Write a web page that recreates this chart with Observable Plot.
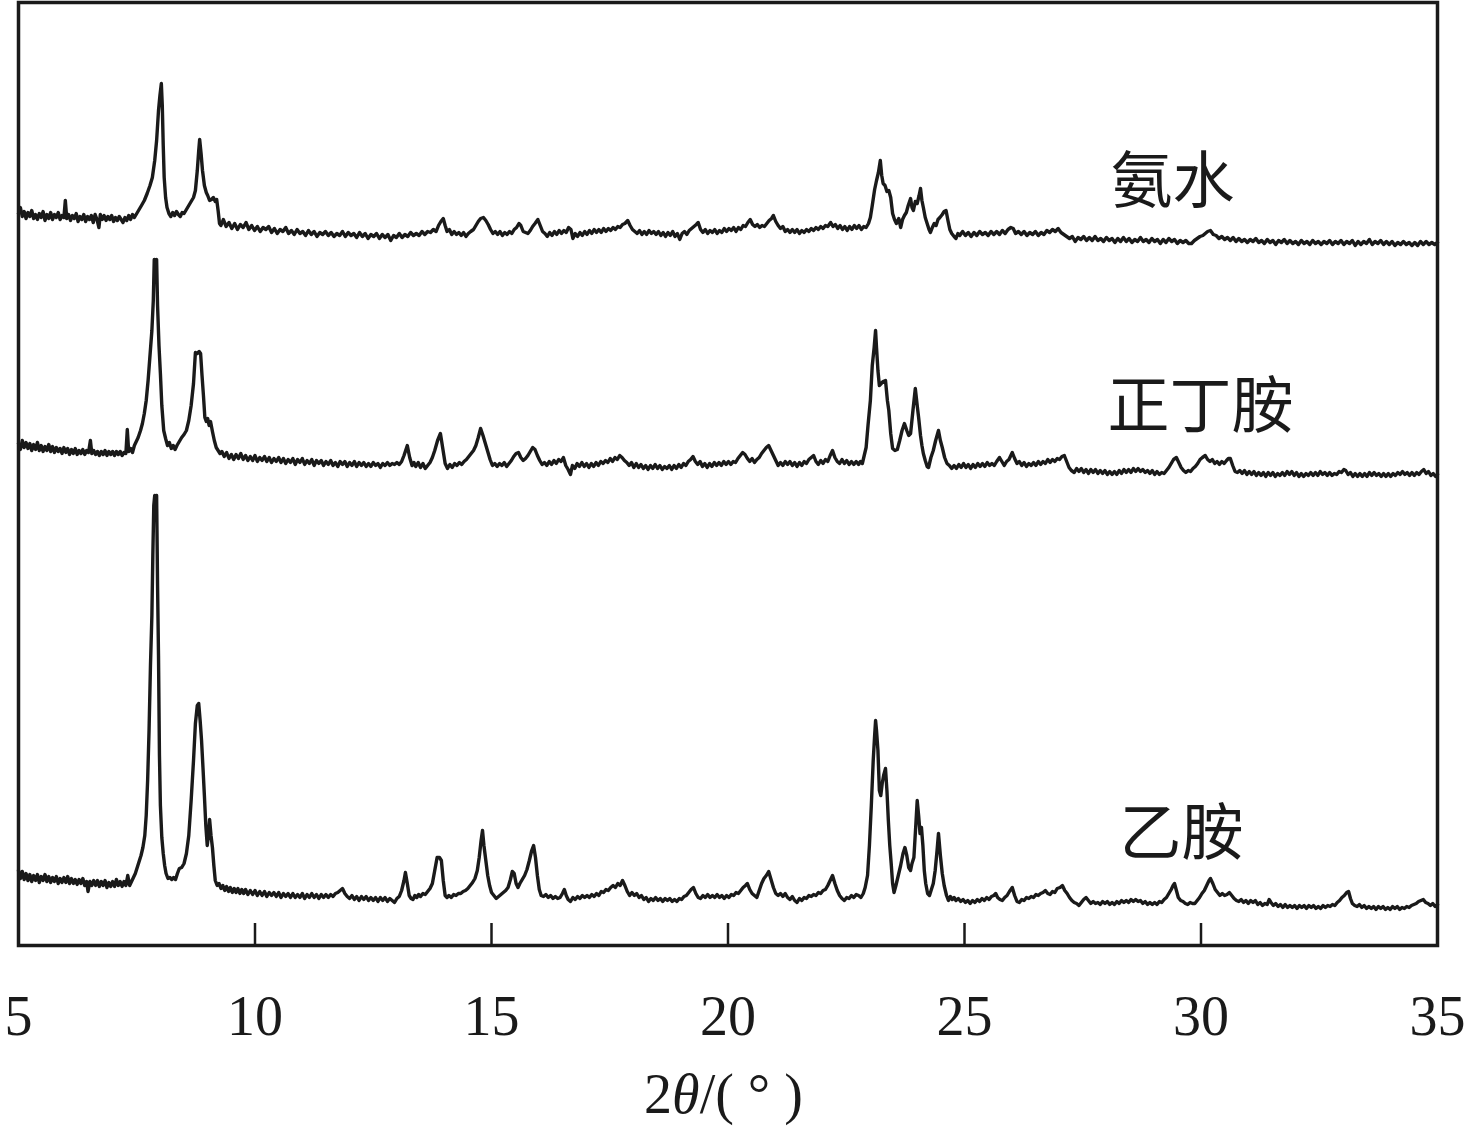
<!DOCTYPE html>
<html><head><meta charset="utf-8">
<script src="https://cdn.jsdelivr.net/npm/d3@7"></script>
<script src="https://cdn.jsdelivr.net/npm/@observablehq/plot@0.6"></script>
<style>body{margin:0;background:#fff}</style>
</head><body><div id="chart"></div>
<script>
// 2θ (deg), intensity (a.u., curves stacked with offset)
const ammonia = [
[5.00,732],[5.04,738],[5.08,729],[5.12,734],[5.16,727],[5.20,733],[5.24,729],[5.28,735],[5.32,727],[5.36,731],[5.40,726],[5.44,732],[5.48,728],[5.52,734],[5.56,725],[5.60,731],[5.64,727],[5.68,733],[5.72,726],[5.76,731],[5.80,728],[5.84,733],[5.88,726],[5.92,730],[5.96,728],[5.99,745],[6.02,727],[6.06,731],[6.10,725],[6.14,730],[6.18,727],[6.22,732],[6.26,724],[6.30,729],[6.34,726],[6.38,731],[6.42,724],[6.46,729],[6.50,726],[6.54,730],[6.58,723],[6.62,731],[6.66,726],[6.70,718],[6.73,731],[6.77,726],[6.81,730],[6.85,725],[6.89,729],[6.93,726],[6.97,730],[7.01,724],[7.05,728],[7.09,725],[7.13,729],[7.17,726],[7.21,723],[7.25,728],[7.29,725],[7.33,730],[7.37,726],[7.41,731],[7.45,728],[7.50,732],[7.55,736],[7.60,740],[7.66,745],[7.72,752],[7.78,760],[7.83,768],[7.88,785],[7.92,805],[7.96,835],[7.99,850],[8.02,862],[8.04,840],[8.06,800],[8.08,768],[8.11,748],[8.14,738],[8.18,732],[8.22,729],[8.26,733],[8.30,730],[8.34,734],[8.38,731],[8.42,729],[8.46,733],[8.50,732],[8.55,736],[8.60,740],[8.65,744],[8.70,748],[8.74,755],[8.78,775],[8.81,795],[8.83,806],[8.86,792],[8.89,775],[8.93,760],[8.97,753],[9.00,750],[9.04,745],[9.08,746],[9.12,748],[9.16,744],[9.19,746],[9.22,735],[9.25,722],[9.28,720],
[9.33,726],[9.39,719],[9.45,723],[9.51,717],[9.57,722],[9.63,716],[9.69,721],[9.75,718],[9.81,723],[9.87,716],[9.93,720],[9.99,715],[10.05,719],[10.11,714],[10.17,718],[10.23,716],[10.29,719],[10.35,713],[10.41,717],[10.47,712],[10.53,716],[10.59,714],[10.65,718],[10.71,712],[10.77,715],[10.83,711],[10.89,716],[10.95,712],[11.01,714],[11.07,710],[11.13,715],[11.19,711],[11.25,714],[11.31,709],[11.37,713],[11.43,711],[11.49,714],[11.55,710],[11.61,713],[11.67,709],[11.73,712],[11.79,710],[11.85,714],[11.91,709],[11.97,713],[12.03,710],[12.09,712],[12.15,708],[12.21,713],[12.27,709],[12.33,712],[12.39,707],[12.45,711],[12.51,709],[12.57,712],[12.63,707],[12.69,711],[12.75,708],[12.81,711],[12.87,705],[12.93,710],[12.99,708],[13.05,712],[13.11,708],[13.17,711],[13.23,709],[13.29,713],[13.35,710],[13.41,712],[13.47,710],[13.53,714],[13.59,711],[13.65,714],[13.71,713],[13.77,716],
[13.83,714],[13.88,720],[13.93,724],[13.98,727],[14.02,720],[14.06,714],[14.11,716],[14.16,711],[14.21,714],[14.26,711],[14.31,713],[14.36,710],[14.41,713],[14.46,709],[14.51,712],[14.56,714],[14.62,716],[14.67,720],[14.72,724],[14.77,727],[14.83,728],[14.88,725],[14.93,721],[14.98,716],[15.03,712],[15.08,714],[15.13,711],[15.18,714],[15.23,710],[15.28,713],[15.33,711],[15.38,714],[15.43,712],[15.48,716],[15.53,718],[15.58,722],[15.62,720],[15.67,714],[15.72,713],[15.77,712],[15.82,715],[15.87,719],[15.92,722],[15.98,726],[16.03,720],[16.08,714],[16.13,712],[16.18,709],[16.23,713],[16.28,710],[16.33,714],[16.38,711],[16.43,715],[16.48,712],[16.53,715],[16.58,713],[16.63,718],[16.68,716],[16.72,707],[16.77,712],[16.82,709],[16.87,713],[16.92,710],[16.97,714],[17.02,711],[17.07,715],[17.12,712],[17.17,716],[17.22,713],[17.27,716],[17.32,713],[17.37,717],[17.42,714],[17.47,717],[17.52,715],[17.57,718],[17.62,716],[17.67,719],[17.72,718],[17.77,721],[17.82,722],[17.88,725],[17.93,720],[17.98,716],[18.03,714],[18.08,712],[18.13,715],[18.18,711],[18.23,714],[18.28,711],[18.33,715],[18.38,712],[18.43,714],[18.48,711],[18.53,714],[18.58,710],[18.63,713],[18.68,709],[18.73,713],[18.78,710],[18.83,714],[18.88,709],[18.93,712],[18.98,706],[19.03,712],[19.08,714],[19.13,711],[19.18,715],[19.23,717],[19.28,719],[19.33,721],[19.37,723],[19.42,716],[19.47,713],[19.52,716],[19.57,712],[19.62,715],[19.67,713],[19.72,716],[19.77,712],[19.82,715],[19.87,713],[19.92,717],[19.97,714],[20.02,717],[20.07,715],[20.12,718],[20.17,714],[20.22,718],[20.27,716],[20.32,720],[20.37,719],[20.42,723],[20.47,726],[20.52,721],[20.57,719],[20.62,721],[20.67,718],[20.72,720],[20.77,719],[20.82,722],[20.87,725],[20.92,727],[20.96,730],[21.01,724],[21.06,720],[21.11,717],[21.16,719],[21.21,714],[21.26,716],[21.31,713],[21.36,716],[21.41,713],[21.46,716],[21.51,712],[21.56,715],[21.61,713],[21.66,716],[21.71,714],[21.76,717],[21.81,715],[21.86,718],[21.91,716],[21.96,719],[22.01,717],[22.06,720],[22.11,719],[22.17,723],[22.22,719],[22.27,721],[22.32,717],[22.37,720],[22.42,716],[22.47,719],[22.52,715],[22.57,719],[22.62,716],[22.67,720],[22.72,717],[22.77,720],[22.82,716],[22.87,719],[22.92,718],[22.97,722],
[23.01,728],[23.05,740],[23.10,756],[23.14,765],[23.18,773],[23.22,785],[23.25,770],[23.28,762],[23.32,760],[23.36,754],[23.40,755],[23.44,748],[23.48,732],[23.52,726],[23.56,722],[23.61,727],[23.65,718],[23.69,726],[23.73,730],[23.77,733],[23.81,740],[23.86,747],[23.89,738],[23.92,735],[23.96,744],[24.00,742],[24.04,750],[24.07,757],[24.10,745],[24.13,738],[24.17,728],[24.21,722],[24.25,716],[24.28,713],[24.32,718],[24.36,722],[24.40,720],[24.44,726],[24.48,728],[24.53,731],[24.57,734],[24.61,735],[24.65,725],[24.69,716],[24.73,712],[24.78,709],[24.82,707],[24.86,712],
[24.90,710],[24.96,714],[25.02,710],[25.08,713],[25.14,709],[25.20,713],[25.26,710],[25.32,714],[25.38,711],[25.44,713],[25.50,710],[25.56,714],[25.62,711],[25.68,714],[25.74,711],[25.80,715],[25.86,712],[25.92,716],[25.98,718],[26.03,717],[26.08,712],[26.14,714],[26.20,711],[26.26,714],[26.32,710],[26.38,713],[26.44,711],[26.50,714],[26.56,710],[26.62,713],[26.68,711],[26.74,715],[26.80,713],[26.86,716],[26.92,714],[26.98,717],[27.04,713],[27.10,711],[27.16,709],[27.22,707],[27.28,709],[27.34,704],[27.40,708],[27.46,706],[27.52,709],[27.58,705],[27.64,708],[27.70,705],[27.76,709],[27.82,705],[27.88,707],[27.94,704],[28.00,708],[28.06,705],[28.12,707],[28.18,703],[28.24,707],[28.30,704],[28.36,708],[28.42,704],[28.48,707],[28.54,703],[28.60,706],[28.66,704],[28.72,708],[28.78,704],[28.84,706],[28.90,703],[28.96,707],[29.02,704],[29.08,706],[29.14,702],[29.20,706],[29.26,703],[29.32,707],[29.38,704],[29.44,706],[29.50,702],[29.56,705],[29.62,703],[29.68,705],[29.74,702],[29.80,702],[29.86,705],[29.92,707],[29.98,709],[30.04,710],[30.09,712],[30.14,714],[30.20,715],[30.26,711],[30.32,710],[30.38,707],[30.44,709],[30.50,706],[30.56,708],[30.62,705],[30.68,708],[30.74,704],[30.80,707],[30.86,704],[30.92,706],[30.98,703],[31.04,706],[31.10,704],[31.16,707],[31.22,703],[31.28,705],[31.34,702],[31.40,706],[31.46,703],[31.52,705],[31.58,701],[31.64,705],[31.70,703],[31.76,706],[31.82,702],[31.88,705],[31.94,702],[32.00,704],[32.06,701],[32.12,705],[32.18,702],[32.24,704],[32.30,701],[32.36,705],[32.42,702],[32.48,704],[32.54,701],[32.60,704],[32.66,702],[32.72,705],[32.78,701],[32.84,704],[32.90,702],[32.96,705],[33.02,701],[33.08,704],[33.14,702],[33.20,705],[33.26,700],[33.32,704],[33.38,701],[33.44,704],[33.50,702],[33.56,706],[33.62,701],[33.68,704],[33.74,702],[33.80,705],[33.86,701],[33.92,704],[33.98,701],[34.04,704],[34.10,700],[34.16,703],[34.22,701],[34.28,704],[34.34,701],[34.40,703],[34.46,700],[34.52,703],[34.58,700],[34.64,704],[34.70,701],[34.76,704],[34.82,701],[34.88,703],[34.94,701],[35.00,703]
];
const butylamine = [
[5.00,502],[5.04,496],[5.08,505],[5.12,498],[5.16,503],[5.20,497],[5.24,502],[5.28,495],[5.32,501],[5.36,496],[5.40,503],[5.44,495],[5.48,500],[5.52,494],[5.56,499],[5.60,495],[5.64,501],[5.68,494],[5.72,499],[5.76,493],[5.80,498],[5.84,494],[5.88,497],[5.92,492],[5.96,498],[6.00,493],[6.04,497],[6.08,491],[6.12,496],[6.16,492],[6.20,497],[6.24,491],[6.28,495],[6.32,492],[6.36,496],[6.40,491],[6.44,495],[6.48,493],[6.52,505],[6.55,492],[6.59,495],[6.63,491],[6.67,494],[6.71,490],[6.75,494],[6.79,491],[6.83,495],[6.87,490],[6.91,494],[6.95,491],[6.99,494],[7.03,490],[7.07,494],[7.11,491],[7.15,494],[7.19,490],[7.23,493],[7.27,492],[7.30,516],[7.33,494],[7.37,497],[7.41,493],[7.45,500],[7.49,504],[7.53,508],[7.58,515],[7.62,522],[7.66,532],[7.70,545],[7.74,565],[7.78,590],[7.82,615],[7.85,645],[7.87,686],[7.90,683],[7.92,686],[7.94,640],[7.97,600],[8.00,572],[8.03,540],[8.07,515],[8.11,507],[8.15,500],[8.19,503],[8.23,497],[8.27,500],[8.31,496],[8.35,500],[8.40,504],[8.45,508],[8.50,511],[8.55,515],[8.60,525],[8.65,540],[8.70,562],[8.74,593],[8.78,592],[8.82,594],[8.85,592],[8.88,570],[8.91,550],[8.94,528],[8.97,524],[9.00,527],[9.03,520],[9.06,524],[9.10,514],[9.14,505],[9.18,498],[9.22,495],[9.26,492],[9.30,494],
[9.35,489],[9.40,493],[9.45,487],[9.50,491],[9.55,486],[9.60,491],[9.65,487],[9.70,492],[9.75,486],[9.80,490],[9.85,485],[9.90,489],[9.95,485],[10.00,490],[10.05,484],[10.10,488],[10.15,485],[10.20,489],[10.25,484],[10.30,488],[10.35,483],[10.40,487],[10.45,484],[10.50,488],[10.55,483],[10.60,487],[10.65,482],[10.70,486],[10.75,483],[10.80,487],[10.85,481],[10.90,486],[10.95,483],[11.00,487],[11.05,481],[11.10,485],[11.15,482],[11.20,486],[11.25,480],[11.30,485],[11.35,482],[11.40,485],[11.45,480],[11.50,484],[11.55,481],[11.60,485],[11.65,480],[11.70,483],[11.75,479],[11.80,484],[11.85,481],[11.90,484],[11.95,479],[12.00,483],[12.05,480],[12.10,484],[12.15,479],[12.20,483],[12.25,480],[12.30,483],[12.35,479],[12.40,482],[12.45,479],[12.50,483],[12.55,480],[12.60,482],[12.65,478],[12.70,482],[12.75,480],[12.80,483],[12.85,480],[12.90,482],[12.95,481],[13.00,483],[13.05,481],[13.10,484],[13.15,490],[13.22,500],[13.27,488],[13.32,480],[13.36,483],[13.40,479],[13.45,483],[13.50,478],[13.55,482],[13.60,477],[13.65,480],[13.70,483],[13.75,488],[13.80,495],[13.86,505],[13.92,512],[13.97,497],[14.02,482],[14.07,477],[14.12,481],[14.17,478],[14.22,482],[14.27,480],[14.32,483],[14.37,481],[14.42,484],[14.47,486],[14.52,489],[14.57,492],[14.62,495],[14.67,500],[14.72,508],[14.77,517],[14.82,510],[14.87,502],[14.92,494],[14.97,486],[15.02,480],[15.07,482],[15.12,479],[15.17,482],[15.22,480],[15.27,483],[15.32,479],[15.37,482],[15.42,485],[15.47,489],[15.52,492],[15.57,493],[15.62,488],[15.67,485],[15.72,487],[15.77,490],[15.82,494],[15.87,498],[15.92,496],[15.97,490],[16.02,485],[16.07,481],[16.12,483],[16.17,480],[16.22,484],[16.27,481],[16.32,485],[16.37,482],[16.42,486],[16.47,484],[16.52,488],[16.57,480],[16.62,476],[16.67,471],[16.71,480],[16.76,477],[16.81,482],[16.86,479],[16.91,483],[16.96,479],[17.01,482],[17.06,478],[17.11,482],[17.16,479],[17.21,483],[17.26,480],[17.31,484],[17.36,482],[17.41,485],[17.46,483],[17.51,487],[17.56,484],[17.61,488],[17.66,486],[17.71,490],[17.76,488],[17.81,485],[17.86,483],[17.91,480],[17.96,483],[18.01,478],[18.06,482],[18.11,478],[18.16,481],[18.21,477],[18.26,480],[18.31,476],[18.36,480],[18.41,477],[18.46,481],[18.51,477],[18.56,480],[18.61,476],[18.66,479],[18.71,477],[18.76,480],[18.81,476],[18.86,480],[18.91,477],[18.96,481],[19.01,478],[19.06,482],[19.11,480],[19.16,484],[19.21,486],[19.26,489],[19.31,484],[19.36,481],[19.41,484],[19.46,479],[19.51,482],[19.56,478],[19.61,482],[19.66,479],[19.71,483],[19.76,480],[19.81,483],[19.86,480],[19.91,484],[19.96,481],[20.01,484],[20.06,481],[20.11,484],[20.16,483],[20.21,487],[20.26,490],[20.31,493],[20.36,491],[20.41,487],[20.46,484],[20.51,487],[20.56,483],[20.61,486],[20.66,488],[20.71,492],[20.76,495],[20.81,498],[20.86,500],[20.91,495],[20.96,490],[21.01,485],[21.06,480],[21.11,483],[21.16,480],[21.21,484],[21.26,481],[21.31,484],[21.36,480],[21.41,483],[21.46,479],[21.51,483],[21.56,480],[21.61,484],[21.66,482],[21.71,486],[21.76,488],[21.81,490],[21.86,484],[21.91,481],[21.96,485],[22.01,482],[22.06,486],[22.11,484],[22.16,490],[22.21,495],[22.26,488],[22.31,484],[22.36,482],[22.41,486],[22.46,482],[22.51,485],[22.56,481],[22.61,484],[22.66,481],[22.71,484],[22.76,481],[22.80,484],[22.84,482],[22.88,490],[22.92,498],[22.96,520],[23.01,545],[23.05,580],[23.09,598],[23.12,615],[23.14,598],[23.17,575],[23.20,560],[23.24,562],[23.28,564],[23.33,565],[23.37,545],[23.40,535],[23.44,512],[23.48,497],[23.53,495],[23.58,496],[23.63,505],[23.68,515],[23.73,522],[23.78,515],[23.82,510],[23.86,512],[23.91,535],[23.96,557],[24.00,540],[24.03,528],[24.07,510],[24.10,500],[24.13,492],[24.17,485],[24.21,479],[24.24,478],[24.29,488],[24.34,495],[24.39,505],[24.45,515],[24.49,505],[24.53,498],[24.58,488],[24.63,482],[24.68,480],[24.73,477],[24.78,480],[24.83,477],[24.88,481],[24.93,478],[24.98,482],[25.03,478],[25.08,481],[25.13,477],[25.18,481],[25.23,478],[25.28,482],[25.33,479],[25.38,482],[25.43,479],[25.48,483],[25.53,480],[25.58,482],[25.63,480],[25.68,484],[25.74,488],[25.79,484],[25.84,480],[25.89,484],[25.94,486],[26.01,493],[26.06,487],[26.11,482],[26.16,484],[26.21,480],[26.26,483],[26.31,479],[26.36,482],[26.41,480],[26.46,483],[26.51,480],[26.56,484],[26.61,481],[26.66,484],[26.71,482],[26.76,486],[26.81,483],[26.86,486],[26.91,484],[26.96,487],[27.01,486],[27.06,489],[27.11,490],[27.16,484],[27.21,478],[27.26,475],[27.32,473],[27.37,477],[27.42,474],[27.47,477],[27.52,473],[27.57,476],[27.62,472],[27.67,476],[27.72,473],[27.77,476],[27.82,472],[27.87,475],[27.92,472],[27.97,475],[28.02,471],[28.07,474],[28.12,471],[28.17,474],[28.22,471],[28.27,475],[28.32,472],[28.37,476],[28.42,473],[28.47,476],[28.52,473],[28.57,477],[28.62,474],[28.67,477],[28.72,474],[28.77,476],[28.82,473],[28.87,475],[28.92,472],[28.97,475],[29.02,471],[29.07,474],[29.12,471],[29.17,473],[29.22,472],[29.27,475],[29.32,478],[29.37,482],[29.42,486],[29.48,488],[29.53,483],[29.58,478],[29.63,475],[29.68,473],[29.73,475],[29.78,474],[29.83,477],[29.88,479],[29.93,482],[29.98,486],[30.03,488],[30.09,490],[30.14,486],[30.19,484],[30.24,486],[30.29,482],[30.34,484],[30.39,481],[30.44,484],[30.49,482],[30.54,485],[30.58,487],[30.62,487],[30.67,480],[30.72,474],[30.77,473],[30.82,475],[30.87,472],[30.92,475],[30.97,471],[31.02,474],[31.07,471],[31.12,474],[31.17,470],[31.22,473],[31.27,470],[31.32,473],[31.37,469],[31.42,473],[31.47,470],[31.52,473],[31.57,469],[31.62,472],[31.67,470],[31.72,473],[31.77,470],[31.82,474],[31.87,471],[31.92,474],[31.97,470],[32.02,473],[32.07,469],[32.12,472],[32.17,469],[32.22,472],[32.27,470],[32.32,473],[32.37,470],[32.42,473],[32.47,470],[32.52,474],[32.57,471],[32.62,473],[32.67,470],[32.72,473],[32.77,470],[32.82,472],[32.87,471],[32.92,474],[32.97,473],[33.02,476],[33.06,475],[33.11,471],[33.16,473],[33.21,469],[33.26,472],[33.31,469],[33.36,472],[33.41,469],[33.46,472],[33.51,469],[33.56,473],[33.61,470],[33.66,473],[33.71,470],[33.76,472],[33.81,469],[33.86,472],[33.91,469],[33.96,472],[34.01,469],[34.06,472],[34.11,470],[34.16,473],[34.21,471],[34.26,474],[34.31,471],[34.36,473],[34.41,470],[34.46,473],[34.51,470],[34.56,473],[34.61,471],[34.66,474],[34.71,476],[34.76,472],[34.81,474],[34.86,470],[34.91,472],[34.96,469],[35.00,471]
];
const ethylamine = [
[5.00,75],[5.04,67],[5.08,74],[5.12,66],[5.16,72],[5.20,65],[5.24,71],[5.28,64],[5.32,70],[5.36,65],[5.40,71],[5.44,63],[5.48,69],[5.52,65],[5.56,71],[5.60,64],[5.64,69],[5.68,63],[5.72,68],[5.76,64],[5.80,69],[5.84,62],[5.88,67],[5.92,63],[5.96,68],[6.00,63],[6.04,69],[6.08,62],[6.12,67],[6.16,62],[6.20,66],[6.24,61],[6.28,66],[6.32,62],[6.36,67],[6.40,60],[6.44,64],[6.47,54],[6.51,64],[6.55,60],[6.59,65],[6.63,60],[6.67,65],[6.71,59],[6.75,64],[6.79,60],[6.83,65],[6.87,58],[6.91,63],[6.95,59],[6.99,64],[7.03,59],[7.07,66],[7.11,60],[7.15,64],[7.19,59],[7.23,64],[7.27,60],[7.31,70],[7.35,60],[7.39,64],[7.43,68],[7.47,72],[7.51,78],[7.55,84],[7.59,90],[7.63,98],[7.67,110],[7.70,130],[7.73,165],[7.76,215],[7.79,280],[7.82,330],[7.84,390],[7.86,440],[7.88,450],[7.90,445],[7.92,450],[7.94,360],[7.96,290],[7.98,190],[8.00,140],[8.03,108],[8.06,92],[8.09,80],[8.12,72],[8.16,67],[8.20,68],[8.24,66],[8.28,68],[8.32,66],[8.36,72],[8.40,77],[8.45,78],[8.50,82],[8.55,92],[8.60,110],[8.65,145],[8.70,185],[8.74,222],[8.78,240],[8.81,242],[8.84,225],[8.87,205],[8.90,178],[8.93,150],[8.96,120],[8.99,100],[9.02,112],[9.04,126],[9.07,110],[9.10,98],[9.13,80],[9.16,65],[9.20,60],[9.24,62],[9.28,57],[9.32,60],[9.36,55],[9.40,59],[9.44,54],[9.48,58],[9.52,53],[9.56,57],[9.60,53],[9.64,57],[9.68,52],[9.72,56],[9.76,52],[9.80,56],[9.85,51],[9.90,55],[9.95,51],[10.00,55],[10.05,50],[10.10,54],[10.15,50],[10.20,54],[10.25,49],[10.30,53],[10.35,50],[10.40,53],[10.45,49],[10.50,53],[10.55,48],[10.60,52],[10.65,49],[10.70,52],[10.75,48],[10.80,52],[10.85,48],[10.90,51],[10.95,48],[11.00,52],[11.05,47],[11.10,51],[11.15,48],[11.20,52],[11.25,48],[11.30,51],[11.35,47],[11.40,51],[11.45,48],[11.50,51],[11.55,48],[11.60,51],[11.65,49],[11.70,52],[11.75,53],[11.80,55],[11.85,57],[11.90,52],[11.95,49],[12.00,47],[12.05,50],[12.10,46],[12.15,49],[12.20,45],[12.25,49],[12.30,46],[12.35,49],[12.40,45],[12.45,48],[12.50,45],[12.55,48],[12.60,44],[12.65,48],[12.70,45],[12.75,48],[12.80,44],[12.85,47],[12.90,45],[12.95,43],[13.00,47],[13.05,49],[13.10,55],[13.15,65],[13.18,73],[13.22,62],[13.26,50],[13.30,47],[13.34,46],[13.38,50],[13.42,48],[13.46,51],[13.50,49],[13.55,52],[13.60,51],[13.65,54],[13.70,57],[13.75,62],[13.80,75],[13.85,88],[13.90,88],[13.94,85],[13.98,65],[14.02,50],[14.06,48],[14.10,50],[14.15,48],[14.20,51],[14.25,50],[14.30,52],[14.35,52],[14.40,54],[14.45,55],[14.50,57],[14.55,60],[14.60,63],[14.65,67],[14.70,75],[14.74,88],[14.78,105],[14.81,115],[14.84,100],[14.88,85],[14.92,70],[14.96,60],[15.00,53],[15.05,50],[15.10,47],[15.15,49],[15.20,51],[15.25,53],[15.30,55],[15.35,58],[15.40,66],[15.44,74],[15.48,72],[15.52,62],[15.56,58],[15.60,62],[15.65,66],[15.70,70],[15.75,76],[15.80,85],[15.85,95],[15.89,100],[15.93,88],[15.97,70],[16.01,56],[16.05,50],[16.10,49],[16.15,51],[16.20,48],[16.25,50],[16.30,47],[16.35,49],[16.40,47],[16.45,48],[16.50,52],[16.54,56],[16.58,50],[16.62,46],[16.67,44],[16.72,48],[16.77,46],[16.82,49],[16.87,47],[16.92,50],[16.97,48],[17.02,50],[17.07,48],[17.12,51],[17.17,49],[17.22,52],[17.27,50],[17.32,54],[17.37,53],[17.42,56],[17.47,55],[17.52,58],[17.57,60],[17.62,58],[17.67,62],[17.72,60],[17.77,65],[17.82,60],[17.87,54],[17.92,50],[17.97,53],[18.02,50],[18.07,52],[18.12,48],[18.17,50],[18.22,46],[18.27,48],[18.32,44],[18.37,47],[18.42,45],[18.47,48],[18.52,45],[18.57,47],[18.62,44],[18.67,47],[18.72,45],[18.77,47],[18.82,44],[18.87,46],[18.92,44],[18.97,47],[19.02,46],[19.07,49],[19.12,50],[19.17,53],[19.22,56],[19.27,58],[19.32,52],[19.37,48],[19.42,47],[19.47,50],[19.52,48],[19.57,51],[19.62,48],[19.67,50],[19.72,48],[19.77,51],[19.82,48],[19.87,50],[19.92,47],[19.97,50],[20.02,48],[20.07,51],[20.12,50],[20.17,53],[20.22,52],[20.27,55],[20.32,58],[20.37,60],[20.41,62],[20.46,56],[20.51,52],[20.56,50],[20.61,48],[20.66,55],[20.71,62],[20.76,67],[20.81,70],[20.86,74],[20.91,66],[20.96,58],[21.01,52],[21.06,50],[21.11,52],[21.16,49],[21.21,52],[21.26,48],[21.31,46],[21.36,49],[21.41,45],[21.46,43],[21.51,47],[21.56,45],[21.61,48],[21.66,47],[21.71,50],[21.76,49],[21.81,51],[21.86,50],[21.91,53],[21.96,52],[22.01,55],[22.06,56],[22.11,60],[22.16,65],[22.21,70],[22.26,62],[22.31,55],[22.36,50],[22.41,47],[22.46,45],[22.51,48],[22.56,47],[22.61,50],[22.66,48],[22.71,51],[22.76,50],[22.81,48],[22.86,52],[22.90,58],[22.95,70],[22.99,100],[23.03,140],[23.07,185],[23.10,210],[23.12,225],[23.14,215],[23.17,195],[23.20,155],[23.23,150],[23.26,162],[23.29,170],[23.33,177],[23.36,155],[23.39,125],[23.42,100],[23.45,82],[23.48,62],[23.51,53],[23.55,60],[23.60,70],[23.65,80],[23.70,92],[23.74,98],[23.78,90],[23.82,78],[23.86,75],[23.89,82],[23.93,88],[23.97,120],[24.00,145],[24.03,130],[24.06,112],[24.09,118],[24.12,100],[24.15,75],[24.18,62],[24.22,52],[24.26,50],[24.30,56],[24.34,62],[24.38,75],[24.42,95],[24.45,112],[24.49,90],[24.53,72],[24.57,60],[24.62,50],[24.66,45],[24.70,49],[24.74,46],[24.78,48],[24.82,45],[24.87,47],[24.92,44],[24.97,46],[25.02,43],[25.07,45],[25.12,42],[25.17,45],[25.22,43],[25.27,46],[25.32,44],[25.37,47],[25.42,45],[25.47,48],[25.52,46],[25.57,49],[25.62,50],[25.66,52],[25.70,48],[25.75,46],[25.80,45],[25.85,48],[25.90,50],[25.95,54],[26.01,58],[26.06,50],[26.11,44],[26.16,43],[26.21,46],[26.26,45],[26.31,48],[26.36,47],[26.41,49],[26.46,48],[26.51,51],[26.56,50],[26.61,52],[26.66,53],[26.71,55],[26.76,52],[26.81,51],[26.86,54],[26.91,53],[26.96,57],[27.02,58],[27.07,60],[27.12,55],[27.17,52],[27.22,48],[27.27,45],[27.32,43],[27.37,42],[27.42,40],[27.47,43],[27.52,46],[27.57,48],[27.62,45],[27.67,42],[27.72,44],[27.77,42],[27.82,43],[27.87,41],[27.92,44],[27.97,42],[28.02,44],[28.07,41],[28.12,43],[28.17,41],[28.22,44],[28.27,42],[28.32,45],[28.37,43],[28.42,45],[28.47,43],[28.52,46],[28.57,44],[28.62,46],[28.67,44],[28.72,45],[28.77,42],[28.82,44],[28.87,41],[28.92,43],[28.97,41],[29.02,43],[29.07,41],[29.12,44],[29.17,43],[29.22,46],[29.27,48],[29.32,52],[29.37,56],[29.41,60],[29.44,62],[29.48,55],[29.52,48],[29.57,45],[29.62,44],[29.67,42],[29.72,41],[29.77,43],[29.82,42],[29.87,42],[29.92,45],[29.97,48],[30.02,52],[30.07,55],[30.12,60],[30.17,65],[30.20,67],[30.25,62],[30.30,56],[30.35,53],[30.40,50],[30.45,52],[30.50,50],[30.55,51],[30.60,53],[30.65,50],[30.70,47],[30.75,45],[30.80,44],[30.85,46],[30.90,43],[30.95,45],[31.00,42],[31.05,45],[31.10,43],[31.15,45],[31.20,41],[31.25,43],[31.30,40],[31.35,42],[31.40,41],[31.44,46],[31.48,43],[31.53,40],[31.58,42],[31.63,39],[31.68,41],[31.73,38],[31.78,41],[31.83,38],[31.88,40],[31.93,38],[31.98,40],[32.03,37],[32.08,40],[32.13,38],[32.18,40],[32.23,37],[32.28,40],[32.33,38],[32.38,40],[32.43,37],[32.48,39],[32.53,37],[32.58,40],[32.63,38],[32.68,40],[32.73,39],[32.78,41],[32.83,40],[32.88,43],[32.93,45],[32.98,48],[33.03,50],[33.08,53],[33.12,54],[33.16,47],[33.20,42],[33.25,40],[33.30,39],[33.35,41],[33.40,38],[33.45,40],[33.50,37],[33.55,39],[33.60,37],[33.65,39],[33.70,36],[33.75,39],[33.80,37],[33.85,39],[33.90,36],[33.95,38],[34.00,36],[34.05,39],[34.10,37],[34.15,39],[34.20,36],[34.25,38],[34.30,37],[34.35,39],[34.40,38],[34.45,40],[34.50,41],[34.55,42],[34.60,44],[34.65,45],[34.70,46],[34.75,43],[34.80,42],[34.85,40],[34.90,42],[34.95,39],[35.00,41]
];
const seriesNames = ["氨水", "正丁胺", "乙胺"];
const labelX = [29.40, 29.99, 29.59];
const labelY = [762, 537, 110];
const xTicks = [5, 10, 15, 20, 25, 30, 35];

const rows = [ammonia, butylamine, ethylamine].flatMap((arr, i) =>
  arr.map(([x, y]) => ({series: seriesNames[i], x, y})));
const labels = seriesNames.map((name, i) => ({name, x: labelX[i], y: labelY[i]}));

const ink = "#1a1a1a";
const plot = Plot.plot({
  width: 1467, height: 1135,
  marginLeft: 18, marginRight: 30, marginTop: 2, marginBottom: 190,
  style: {fontFamily: "'Liberation Serif', 'Times New Roman', serif", background: "#fff", color: ink},
  x: {domain: [5, 35]},
  y: {domain: [0, 943], axis: null},
  marks: [
    Plot.axisX({ticks: xTicks, tickFormat: d => String(d), tickSize: -22, tickPadding: 72,
      fontSize: 56, strokeWidth: 2.5, stroke: ink, fill: ink, label: null}),
    Plot.line(rows, {x: "x", y: "y", z: "series", stroke: ink, strokeWidth: 3.4, strokeLinejoin: "round"}),
    Plot.text(labels, {x: "x", y: "y", text: "name", fontSize: 62,
      fontFamily: "'Noto Sans CJK SC', sans-serif", fill: ink}),
    Plot.frame({stroke: ink, strokeWidth: 3.5})
  ]
});

// axis title with italic theta
const xs = plot.scale("x");
const t = d3.select(plot).append("text")
  .attr("x", xs.apply(20) - 4).attr("y", 1113)
  .attr("text-anchor", "middle")
  .attr("font-family", "'Liberation Serif', 'Times New Roman', serif")
  .attr("font-size", 56).attr("fill", ink)
  .attr("xml:space", "preserve").style("white-space", "pre");
t.append("tspan").text("2");
t.append("tspan").attr("font-style", "italic").text("θ");
t.append("tspan").text("/( ° )");

document.getElementById("chart").appendChild(plot);
</script>
</body></html>
